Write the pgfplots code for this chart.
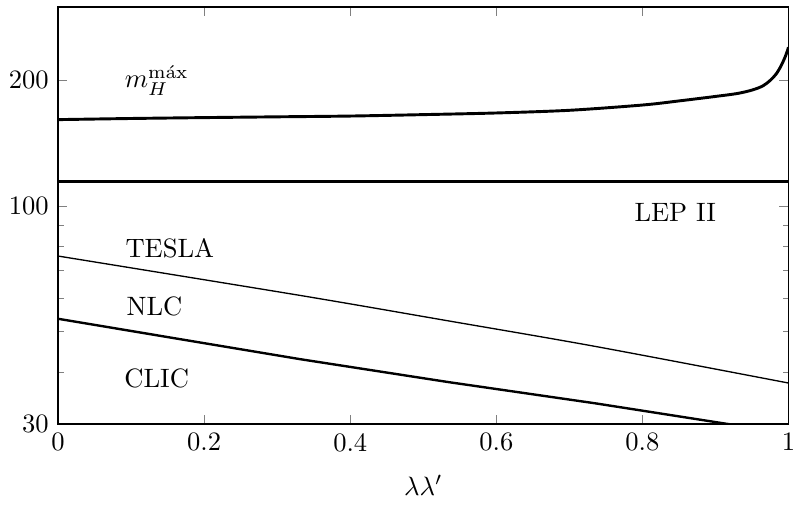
\documentclass[border=0pt]{standalone}
\usepackage{pgfplots}
\pgfplotsset{compat=1.18}

\begin{document}
\begin{tikzpicture}
\begin{axis}[
  scale only axis,
  width=275pt, height=157pt,
  ymode=log,
  xmin=0, xmax=1, ymin=30, ymax=300,
  xtick={0,0.2,0.4,0.6,0.8,1},
  xticklabels={0,0.2,0.4,0.6,0.8,1},
  ytick={30,100,200},
  yticklabels={30,100,200},
  minor ytick={40,50,60,70,80,90,300},
  tick align=inside,
  major tick length=3.5pt, minor tick length=2.2pt,
  xlabel={$\lambda\lambda'$},
  xlabel style={yshift=-2pt},
  axis line style={line width=0.5pt},
  clip=true]
% m_H max
\addplot[black, line width=1.1pt, smooth, tension=0.5] coordinates {
  (0,161) (0.1,162) (0.2,162.8) (0.3,163.5) (0.4,164.2) (0.5,165.5)
  (0.6,167) (0.7,169.5) (0.8,174.5) (0.85,178.5) (0.9,183) (0.93,186)
  (0.95,189.5) (0.965,194) (0.975,200) (0.983,207) (0.99,217) (0.996,229) (1.0,240)};
% LEP II
\addplot[black, line width=1.2pt] coordinates {(0,114.5) (1,114.5)};
% TESLA
\addplot[black, line width=0.5pt, smooth] coordinates {
  (0,75.8) (0.331,61.0) (0.534,53.0) (0.736,46.0) (1,37.6)};
% CLIC
\addplot[black, line width=0.9pt] coordinates {
  (0,53.6) (0.331,42.9) (0.534,37.8) (0.736,33.6) (0.916,30) (1,28.6)};
\node at (axis cs:0.135,200) {$m_H^{\mathrm{m\acute{a}x}}$};
\node at (axis cs:0.845,96.5) {LEP II};
\node at (axis cs:0.153,79) {TESLA};
\node at (axis cs:0.132,57.5) {NLC};
\node at (axis cs:0.135,38.5) {CLIC};
\end{axis}
\path (current axis.north) ++(0,2.6pt);
\end{tikzpicture}
\end{document}
